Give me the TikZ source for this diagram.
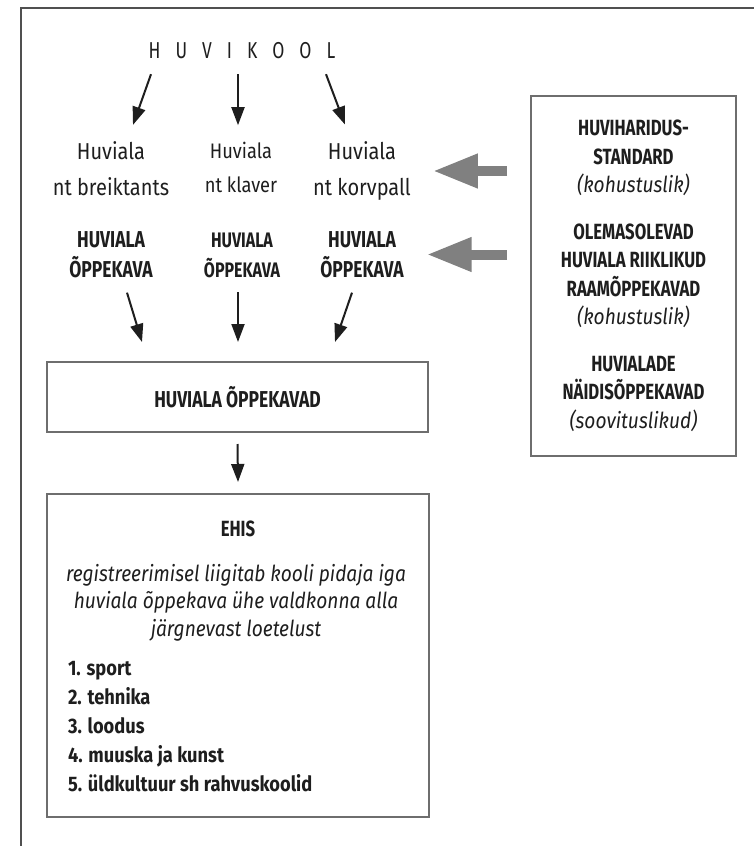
\documentclass[tikz,border=0pt]{standalone}
\usepackage{fontspec}
\setmainfont{Fira Sans}[FakeStretch=0.87]
\newfontfamily\capsfont{Fira Sans}[FakeStretch=0.76]
\usetikzlibrary{arrows.meta}
\definecolor{boxgray}{HTML}{6E6E6E}
\definecolor{framegray}{HTML}{505050}
\definecolor{blockgray}{HTML}{808080}
\definecolor{ink}{HTML}{1E1E1E}

\begin{document}
\begin{tikzpicture}[x=1pt,y=-1pt,
	txt/.style={inner sep=0,outer sep=0,align=center,text=ink},
	hvtxt/.style={txt,font=\fontsize{23}{36}\selectfont},
	pktxt/.style={txt,font=\capsfont\bfseries\fontsize{23}{30}\selectfont},
	box/.style={draw=boxgray,line width=2pt,inner sep=0,text=ink},
	arr/.style={draw=ink,line width=2pt,-{Triangle[length=18pt,width=13pt]}},
	blockarr/.style={draw=blockgray,line width=10pt,-{Triangle[length=45pt,width=32pt]}}]
	\useasboundingbox (0,0) rectangle (754,846);
	\draw[framegray,line width=2pt] (21,846) -- (21,7.5) -- (754,7.5);
	\node[txt,font=\capsfont\fontsize{23}{26}\selectfont] (huvikool) at (242,51) {H\kern15pt U\kern15pt V\kern15pt I\kern15pt K\kern15pt O\kern15pt O\kern15pt L};
	\node[hvtxt] (hv1) at (111,169) {Huviala\\nt breiktants};
	\node[hvtxt,font=\fontsize{21}{34}\selectfont] (hv2) at (241,167.5) {Huviala\\nt klaver};
	\node[hvtxt] (hv3) at (362,171) {Huviala\\nt korvpall};
	\node[pktxt] (pk1) at (111,254.5) {HUVIALA\\ÕPPEKAVA};
	\node[pktxt,font=\capsfont\bfseries\fontsize{21}{30}\selectfont] (pk2) at (242,255) {HUVIALA\\ÕPPEKAVA};
	\node[pktxt] (pk3) at (362,254.5) {HUVIALA\\ÕPPEKAVA};
	\node[box,minimum width=381,minimum height=70,font=\capsfont\bfseries\fontsize{23}{26}\selectfont] (kava) at (237.5,397) {HUVIALA ÕPPEKAVAD};
	\node[box,minimum width=382,minimum height=323] (ehis) at (238,655.5) {};
	\node[txt,font=\capsfont\bfseries\fontsize{22}{26}\selectfont] (ehistitle) at (238,528.5) {EHIS};
	\node[txt,font=\itshape\fontsize{22}{27.5}\selectfont] (ehisdesc) at (236,602.5) {registreerimisel liigitab kooli pidaja iga\\huviala õppekava ühe valdkonna alla\\järgnevast loetelust};
	\node[txt,anchor=west,align=left,font=\bfseries\fontsize{21}{29}\selectfont] (domains) at (68,727) {1. sport\\2. tehnika\\3. loodus\\4. muuska ja kunst\\5. üldkultuur sh rahvuskoolid};
	\node[box,minimum width=205,minimum height=360,align=center,font=\capsfont\bfseries\fontsize{22}{28.5}\selectfont] (std) at (633.5,276) {HUVIHARIDUS-\\STANDARD\\{\normalfont\itshape (kohustuslik)}\\[18pt]OLEMASOLEVAD\\HUVIALA RIIKLIKUD\\RAAMÕPPEKAVAD\\{\normalfont\itshape (kohustuslik)}\\[18pt]HUVIALADE\\NÄIDISÕPPEKAVAD\\{\normalfont\itshape (soovituslikud)}};
	\draw[arr] ([xshift=-91pt,yshift=-15pt]huvikool.south) -- ([xshift=22pt,yshift=17pt]hv1.north);
	\draw[arr] ([xshift=-4pt,yshift=-15pt]huvikool.south) -- ([xshift=-3pt,yshift=17pt]hv2.north);
	\draw[arr] ([xshift=84pt,yshift=-15pt]huvikool.south) -- ([xshift=-17pt,yshift=17pt]hv3.north);
	\draw[arr] ([xshift=16pt,yshift=-15pt]pk1.south) -- ([xshift=-95.5pt,yshift=19pt]kava.north);
	\draw[arr] ([xshift=-4pt,yshift=-15pt]pk2.south) -- ([xshift=0.5pt,yshift=19pt]kava.north);
	\draw[arr] ([xshift=-10pt,yshift=-15pt]pk3.south) -- ([xshift=97.5pt,yshift=19pt]kava.north);
	\draw[arr] ([yshift=-11pt]kava.south) -- ([yshift=11pt]ehis.north);
	\draw[blockarr,shorten <=23pt,shorten >=22pt] (std.west |- hv3.east) -- (hv3.east);
	\draw[blockarr,shorten <=23pt,shorten >=23pt] (std.west |- pk3.east) -- (pk3.east);
\end{tikzpicture}
\end{document}
